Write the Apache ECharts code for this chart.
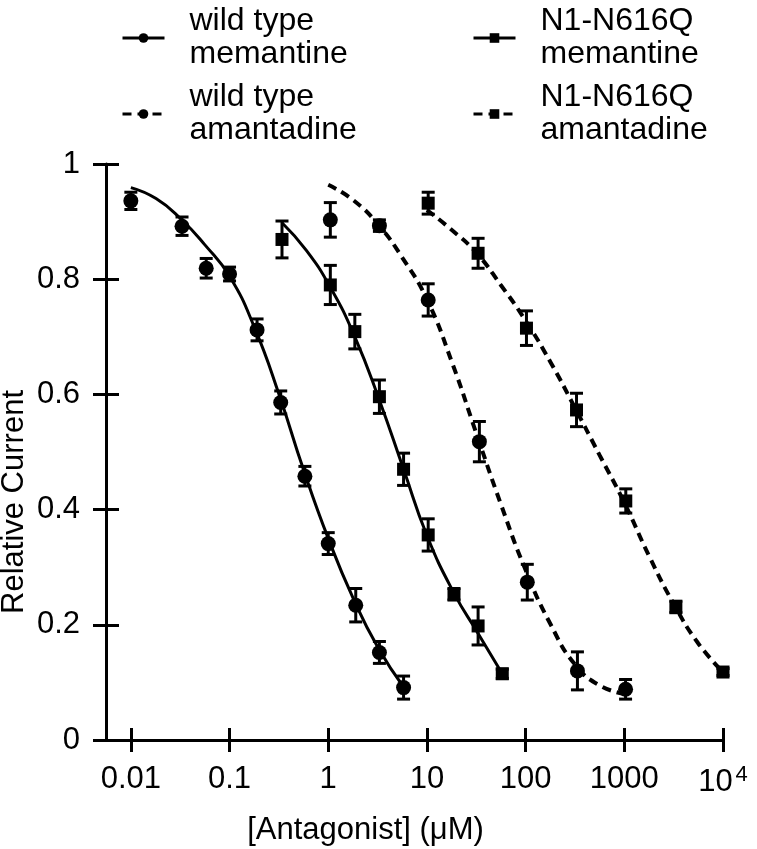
<!DOCTYPE html>
<html>
<head>
<meta charset="utf-8">
<script src="https://cdn.jsdelivr.net/npm/echarts@6/dist/echarts.min.js"></script>
<style>
  html, body { margin: 0; padding: 0; background: #fff; }
  #chart { width: 757px; height: 849px; }
</style>
</head>
<body>
<div id="chart"></div>
<script>
// ---------- data ----------
// wild type + memantine (circles, solid fit)
const wtMemX = [0.01, 0.033, 0.058, 0.1, 0.19, 0.33, 0.58, 1.0, 1.9, 3.3, 5.8];
const wtMemY = [0.936, 0.892, 0.819, 0.809, 0.712, 0.586, 0.458, 0.341, 0.234, 0.152, 0.091];
const wtMemErr = [0.015, 0.016, 0.017, 0.012, 0.019, 0.02, 0.017, 0.019, 0.029, 0.019, 0.02];
const wtMemFitX = [0.01, 0.018, 0.032, 0.056, 0.1, 0.18, 0.32, 0.56, 1, 1.8, 3.2, 5.8];
const wtMemFitY = [0.959, 0.94, 0.905, 0.86, 0.805, 0.715, 0.598, 0.47, 0.35, 0.245, 0.16, 0.092];

// N1-N616Q + memantine (squares, solid fit)
const nqMemX = [0.34, 1.05, 1.86, 3.3, 5.8, 10.3, 18.8, 33, 58];
const nqMemY = [0.869, 0.79, 0.709, 0.596, 0.47, 0.356, 0.253, 0.198, 0.115];
const nqMemErr = [0.032, 0.034, 0.03, 0.029, 0.028, 0.028, 0.01, 0.033, 0.008];
const nqMemFitX = [0.34, 0.6, 1.05, 1.86, 3.3, 5.8, 10, 18.8, 33, 58];
const nqMemFitY = [0.898, 0.85, 0.786, 0.7, 0.59, 0.47, 0.355, 0.255, 0.185, 0.115];

// wild type + amantadine (circles, dashed fit)
const wtAmaX = [1.05, 3.3, 10.3, 34, 104, 335, 1030];
const wtAmaY = [0.903, 0.893, 0.764, 0.518, 0.274, 0.12, 0.088];
const wtAmaErr = [0.03, 0.01, 0.028, 0.035, 0.031, 0.033, 0.017];
const wtAmaFitX = [1, 1.8, 3.2, 5.6, 10, 18, 32, 56, 100, 180, 320, 560, 1000];
const wtAmaFitY = [0.964, 0.937, 0.895, 0.838, 0.765, 0.655, 0.53, 0.41, 0.295, 0.2, 0.13, 0.095, 0.08];

// N1-N616Q + amantadine (squares, dashed fit)
const nqAmaX = [10.3, 33, 102, 328, 1035, 3330, 10000];
const nqAmaY = [0.932, 0.845, 0.715, 0.573, 0.415, 0.231, 0.118];
const nqAmaErr = [0.019, 0.026, 0.03, 0.029, 0.021, 0.01, 0.006];
const nqAmaFitX = [10, 18, 32, 56, 100, 180, 320, 560, 1000, 1800, 3200, 5600, 10000];
const nqAmaFitY = [0.92, 0.885, 0.845, 0.79, 0.728, 0.655, 0.575, 0.495, 0.412, 0.318, 0.235, 0.168, 0.118];

// axis ticks
const xTickValues = [0.01, 0.1, 1, 10, 100, 1000, 10000];
const xTickLabels = ['0.01', '0.1', '1', '10', '100', '1000', '{b|10}{s|4}'];

const seriesNames = ['wild type\nmemantine', 'N1-N616Q\nmemantine', 'wild type\namantadine', 'N1-N616Q\namantadine'];

// ---------- helpers ----------
const FONT = '"Liberation Sans", Arial, sans-serif';
const pairs = (xs, ys) => xs.map((x, i) => [x, ys[i]]);
const bars = (xs, ys, es) => xs.map((x, i) => [x, ys[i] - es[i], ys[i] + es[i]]);

// vertical error bar with caps
const renderErrorBar = (params, api) => {
  const x = api.value(0);
  const lo = api.coord([x, api.value(1)]);
  const hi = api.coord([x, api.value(2)]);
  const half = 6.5;
  const style = { stroke: '#000', lineWidth: 3 };
  return {
    type: 'group',
    children: [
      { type: 'line', shape: { x1: lo[0], y1: lo[1], x2: hi[0], y2: hi[1] }, style },
      { type: 'line', shape: { x1: lo[0] - half, y1: lo[1], x2: lo[0] + half, y2: lo[1] }, style },
      { type: 'line', shape: { x1: hi[0] - half, y1: hi[1], x2: hi[0] + half, y2: hi[1] }, style },
    ],
  };
};

const fitSeries = (name, xs, ys, symbol, dashed) => ({
  name,
  type: 'line',
  data: pairs(xs, ys),
  smooth: true,
  symbol,
  showSymbol: false,
  silent: true,
  z: 2,
  itemStyle: { color: '#000' },
  lineStyle: { color: '#000', width: dashed ? 4 : 3, type: dashed ? [9, 6] : 'solid' },
});

const errSeries = (id, xs, ys, es) => ({
  id,
  name: id,
  type: 'custom',
  renderItem: renderErrorBar,
  data: bars(xs, ys, es),
  encode: { x: 0, y: [1, 2] },
  clip: false,
  silent: true,
  z: 3,
});

const pointSeries = (id, xs, ys, symbol, size) => ({
  id,
  name: id,
  type: 'scatter',
  data: pairs(xs, ys),
  symbol,
  symbolSize: size,
  clip: false,
  itemStyle: { color: '#000', opacity: 1 },
  silent: true,
  z: 4,
});

const legendBase = {
  orient: 'horizontal',
  padding: 0,
  itemWidth: 42,
  itemHeight: 12,
  selectedMode: false,
  lineStyle: { width: 3 },
  textStyle: { fontSize: 32, lineHeight: 33, color: '#000', fontFamily: FONT, padding: [0, 0, 0, 20] },
};

const axisText = { color: '#000', fontSize: 31, fontFamily: FONT };
const axisLineStyle = { color: '#000', width: 3 };

// ---------- chart ----------
const chart = echarts.init(document.getElementById('chart'));

chart.setOption({
  animation: false,
  backgroundColor: '#fff',
  legend: [
    { ...legendBase, data: [seriesNames[0]], left: 121, top: 5 },
    { ...legendBase, data: [seriesNames[1]], left: 472, top: 5 },
    { ...legendBase, data: [seriesNames[2]], left: 121, top: 81 },
    { ...legendBase, data: [seriesNames[3]], left: 472, top: 81 },
  ],
  grid: { left: 106, right: 34, top: 164, bottom: 109, outerBoundsMode: 'none' },
  xAxis: [
    {
      type: 'log',
      logBase: 10,
      min: 0.0056,
      max: 10000,
      position: 'bottom',
      name: '[Antagonist] (\u03bcM)',
      nameLocation: 'middle',
      nameGap: 75,
      nameTextStyle: { ...axisText, padding: [0, 98, 0, 0] },
      axisLine: { lineStyle: axisLineStyle },
      axisTick: { length: 12, lineStyle: axisLineStyle, customValues: xTickValues },
      axisLabel: {
        ...axisText,
        margin: 24,
        customValues: xTickValues,
        formatter: (v) => {
          const i = xTickValues.findIndex((t) => Math.abs(Math.log10(t) - Math.log10(v)) < 1e-6);
          return i >= 0 ? xTickLabels[i] : '';
        },
        rich: {
          b: { fontSize: 31, fontFamily: FONT, color: '#000' },
          s: { fontSize: 22, fontFamily: FONT, color: '#000', verticalAlign: 'top', padding: [0, 0, 14, 3] },
        },
      },
      splitLine: { show: false },
    },
    {
      type: 'log',
      logBase: 10,
      min: 0.0056,
      max: 10000,
      position: 'bottom',
      axisLine: { show: false },
      axisTick: { inside: true, length: 12, lineStyle: axisLineStyle, customValues: xTickValues },
      axisLabel: { show: false },
      splitLine: { show: false },
    },
  ],
  yAxis: [
    {
      type: 'value',
      min: 0,
      max: 1,
      interval: 0.2,
      position: 'left',
      name: 'Relative Current',
      nameLocation: 'middle',
      nameMoveOverlap: false,
      nameGap: 76,
      nameRotate: 90,
      nameTextStyle: { ...axisText, align: 'center', verticalAlign: 'bottom', padding: [0, 100, 0, 0] },
      axisLine: { lineStyle: axisLineStyle },
      axisTick: { length: 13, lineStyle: axisLineStyle },
      axisLabel: { ...axisText, margin: 26 },
      splitLine: { show: false },
    },
    {
      type: 'value',
      min: 0,
      max: 1,
      interval: 0.2,
      position: 'left',
      axisLine: { show: false },
      axisTick: { inside: true, length: 13, lineStyle: axisLineStyle },
      axisLabel: { show: false },
      splitLine: { show: false },
    },
  ],
  series: [
    fitSeries(seriesNames[0], wtMemFitX, wtMemFitY, 'circle', false),
    fitSeries(seriesNames[1], nqMemFitX, nqMemFitY, 'rect', false),
    fitSeries(seriesNames[2], wtAmaFitX, wtAmaFitY, 'circle', true),
    fitSeries(seriesNames[3], nqAmaFitX, nqAmaFitY, 'rect', true),
    errSeries('wtMemErr', wtMemX, wtMemY, wtMemErr),
    errSeries('nqMemErr', nqMemX, nqMemY, nqMemErr),
    errSeries('wtAmaErr', wtAmaX, wtAmaY, wtAmaErr),
    errSeries('nqAmaErr', nqAmaX, nqAmaY, nqAmaErr),
    pointSeries('wtMemPts', wtMemX, wtMemY, 'circle', 15),
    pointSeries('nqMemPts', nqMemX, nqMemY, 'rect', 13),
    pointSeries('wtAmaPts', wtAmaX, wtAmaY, 'circle', 15),
    pointSeries('nqAmaPts', nqAmaX, nqAmaY, 'rect', 13),
  ],
});
</script>
</body>
</html>
